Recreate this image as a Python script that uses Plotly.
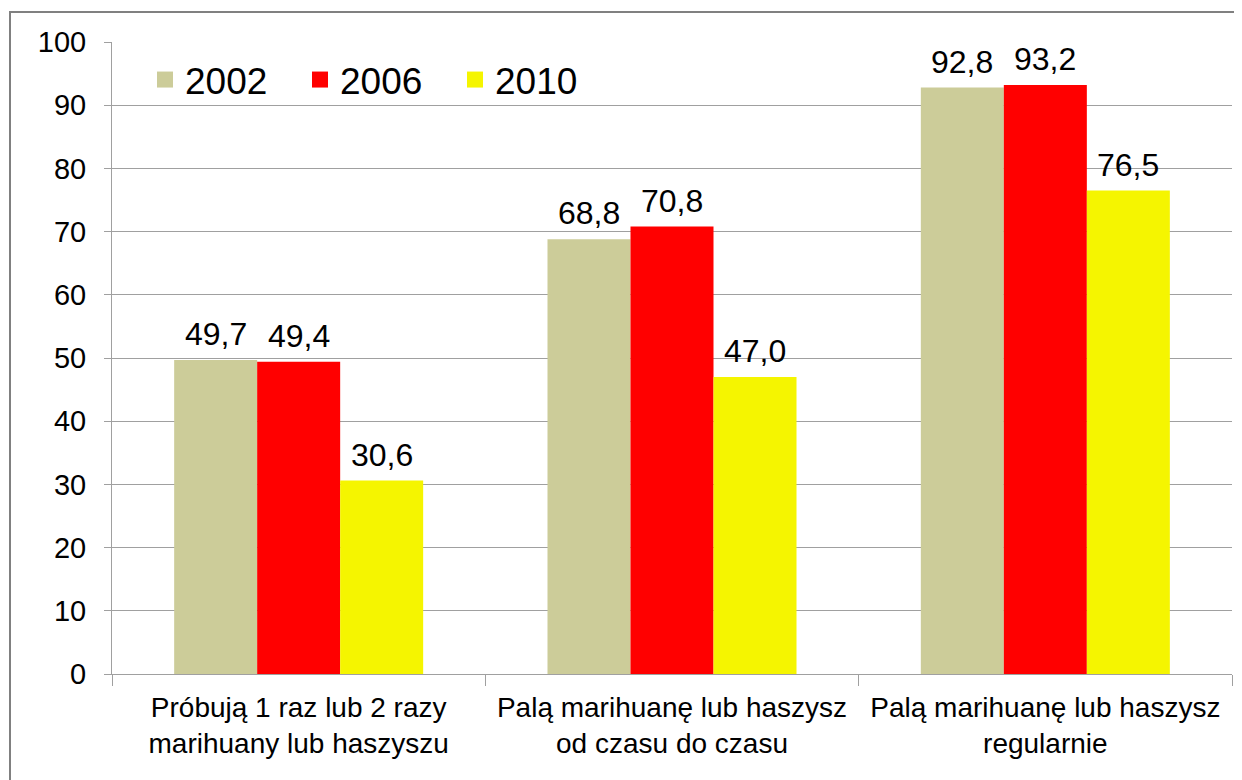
import plotly.graph_objects as go

categories = ["Próbują 1 raz lub 2 razy<br>marihuany lub haszyszu",
              "Palą marihuanę lub haszysz<br>od czasu do czasu",
              "Palą marihuanę lub haszysz<br>regularnie"]
years = ["2002", "2006", "2010"]
values_2002 = [49.7, 68.8, 92.8]
values_2006 = [49.4, 70.8, 93.2]
values_2010 = [30.6, 47.0, 76.5]
colors = ["#CCCC99", "#FF0000", "#F5F500"]
y_ticks = list(range(0, 101, 10))

# page has an 8px body margin; work in screen pixels and subtract it
OFF = 8
FW, FH = 1242 - OFF, 780 - OFF
L, T, W, H = 112 - OFF, 42 - OFF, 1120, 632
BARGAP = 0.333

def px(x):
    return (x - OFF - L) / W
def py(y):
    return (T + H - (y - OFF)) / H

fig = go.Figure()
series = [values_2002, values_2006, values_2010]
for name, vals, col in zip(years, series, colors):
    fig.add_trace(go.Bar(
        x=categories, y=vals, name=name, marker=dict(color=col, line=dict(width=0)),
        showlegend=False, hoverinfo="x+y"))
    fig.add_trace(go.Scatter(
        x=[None], y=[None], mode="markers", name=name,
        marker=dict(symbol="square", size=16, color=col)))

# value labels above each bar
bar_w_px = W / len(categories) * (1 - BARGAP) / len(series)
annotations = []
for i, vals in enumerate(series):
    for cat, v in zip(categories, vals):
        annotations.append(dict(
            x=cat, y=v, xref="x", yref="y", text=f"{v:.1f}".replace(".", ","),
            showarrow=False, xanchor="center", yanchor="bottom",
            xshift=(i - (len(series) - 1) / 2) * bar_w_px, yshift=6,
            font=dict(size=32, color="#000000")))

fig.update_layout(
    width=FW, height=FH,
    margin=dict(l=L, r=FW - L - W, t=T, b=FH - T - H),
    paper_bgcolor="white", plot_bgcolor="white",
    font=dict(family="Liberation Sans, Arial, sans-serif", color="#000000"),
    barmode="group", bargap=BARGAP, bargroupgap=0,
    legend=dict(orientation="h", x=px(145), y=py(80), xanchor="left", yanchor="middle",
                font=dict(size=37), entrywidth=110, entrywidthmode="pixels",
                bgcolor="rgba(0,0,0,0)", itemclick=False),
    xaxis=dict(showline=True, linecolor="#A0A0A0", linewidth=1,
               ticks="outside", tickson="boundaries", ticklen=11, tickcolor="#A0A0A0",
               tickfont=dict(size=28), showgrid=False, ticklabelstandoff=8),
    yaxis=dict(range=[0, 100], tickvals=y_ticks, showline=True, linecolor="#A0A0A0",
               linewidth=1, ticks="outside", ticklen=7, tickcolor="#A0A0A0",
               showgrid=True, gridcolor="#A0A0A0", gridwidth=1,
               tickfont=dict(size=29), zeroline=False, ticklabelstandoff=12),
    annotations=annotations,
    shapes=[dict(type="rect", xref="paper", yref="paper",
                 x0=px(10), x1=px(1260), y0=py(800), y1=py(12),
                 line=dict(color="#808080", width=2), layer="below")],
)

fig.write_html("out.html")
